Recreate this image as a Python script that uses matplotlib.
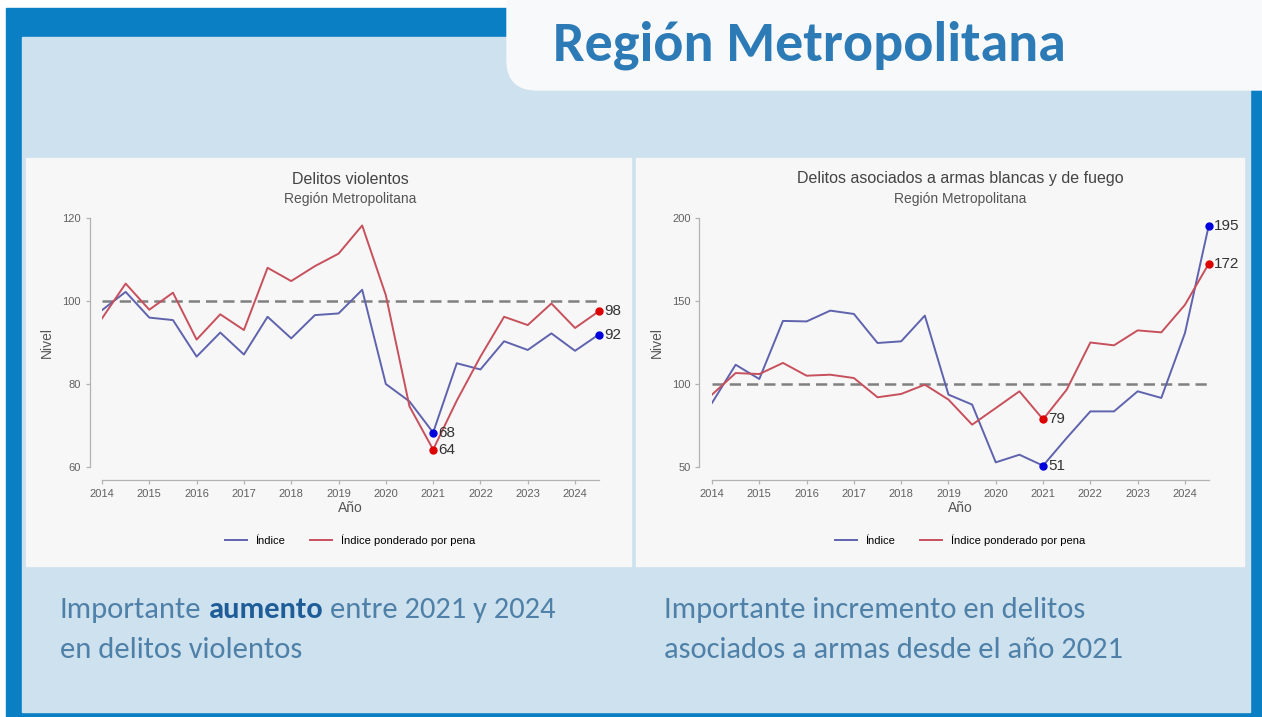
import matplotlib
matplotlib.use('Agg')
import matplotlib.pyplot as plt
from matplotlib.patches import Rectangle, FancyBboxPatch
from matplotlib import font_manager

# ------------------------------------------------------------
# Datos (semestrales 2014 - 2024)
# ------------------------------------------------------------
periodos = [2014.0, 2014.5, 2015.0, 2015.5, 2016.0, 2016.5, 2017.0, 2017.5,
            2018.0, 2018.5, 2019.0, 2019.5, 2020.0, 2020.5, 2021.0, 2021.5,
            2022.0, 2022.5, 2023.0, 2023.5, 2024.0, 2024.5]
anios = [2014, 2015, 2016, 2017, 2018, 2019, 2020, 2021, 2022, 2023, 2024]

violentos_indice = [97.8, 102.2, 96.0, 95.4, 86.6, 92.4, 87.1, 96.2, 91.0, 96.6, 97.0,
                    102.7, 80.0, 75.8, 68.3, 85.0, 83.5, 90.3, 88.2, 92.2, 88.0, 91.9]
violentos_pond = [95.8, 104.2, 97.9, 102.0, 90.7, 96.8, 93.0, 108.0, 104.8, 108.4, 111.4,
                  118.2, 101.4, 74.6, 64.2, 76.0, 86.6, 96.2, 94.2, 99.4, 93.5, 97.5]

armas_indice = [88.6, 111.6, 103.0, 138.0, 137.7, 144.2, 142.2, 124.7, 125.7, 141.2, 93.6,
                87.6, 52.8, 57.4, 50.8, 67.5, 83.5, 83.5, 95.6, 91.6, 130.7, 195.0]
armas_pond = [93.6, 106.6, 106.0, 112.7, 105.0, 105.6, 103.6, 92.0, 94.0, 99.6, 90.6,
              75.5, 85.5, 95.6, 78.7, 96.6, 125.0, 123.3, 132.3, 131.1, 147.7, 172.3]

# puntos marcados: 2021 y ultimo semestre
marcados = [2021.0, 2024.5]

W, H = 1262, 717
AZUL_LINEA = '#5f63ad'
ROJO_LINEA = '#c7505d'
GRIS_TXT = '#444444'

nombres = {f.name for f in font_manager.fontManager.ttflist}
fuente = next(n for n in ['Carlito', 'Lato', 'Open Sans', 'DejaVu Sans'] if n in nombres)
fuente_graf = next(n for n in ['Liberation Sans', 'Arimo', 'DejaVu Sans'] if n in nombres)

fig = plt.figure(figsize=(W / 100, H / 100), dpi=100)
fig.patch.set_facecolor('white')


def rect_px(x0, y0, x1, y1):
    return [x0 / W, 1 - y1 / H, (x1 - x0) / W, (y1 - y0) / H]


def texto(x, y, s, **kw):
    return fig.text(x / W, 1 - y / H, s, **kw)


# ------------------------------------------------------------
# Fondo de la diapositiva
# ------------------------------------------------------------
bg = fig.add_axes([0, 0, 1, 1])
bg.set_xlim(0, W)
bg.set_ylim(H, 0)
bg.axis('off')
bg.add_patch(Rectangle((6, 8), W - 6, H - 8, color='#0b7fc3', zorder=0))
bg.add_patch(Rectangle((22, 37), 1228, 675, color='#cde1ee', zorder=1))
bg.add_patch(FancyBboxPatch((507, -40), 820, 130, boxstyle='round,pad=0,rounding_size=30',
                            color='#f8f9fa', zorder=2))
bg.add_patch(Rectangle((26, 158), 605, 408, color='#f7f7f7', zorder=1))
bg.add_patch(Rectangle((636, 158), 608, 408, color='#f7f7f7', zorder=1))


def dibujar(rect, indice, pond, titulo, ylim, yticks, cx):
    ax = fig.add_axes(rect_px(*rect))
    ax.set_facecolor('none')
    ax.plot([periodos[0], periodos[-1]], [100, 100], color='#808080', lw=1.8,
            dashes=(4.5, 2.4), zorder=1)
    l1, = ax.plot(periodos, indice, color=AZUL_LINEA, lw=1.4, label='Índice', zorder=2)
    l2, = ax.plot(periodos, pond, color=ROJO_LINEA, lw=1.4, label='Índice ponderado por pena', zorder=2)
    for serie, col in [(indice, '#0000dd'), (pond, '#dd0000')]:
        for p in marcados:
            v = serie[periodos.index(p)]
            ax.plot(p, v, 'o', color=col, ms=5, clip_on=False, zorder=3)
            ax.annotate(f'{round(v)}', (p, v), xytext=(4, 0), textcoords='offset points',
                        va='center', ha='left', fontsize=11, color='#333333', family=fuente_graf)
    ax.set_xlim(2014, 2024.5)
    ax.set_ylim(*ylim)
    ax.set_xticks(anios)
    ax.set_yticks(yticks)
    for s in ['top', 'right']:
        ax.spines[s].set_visible(False)
    ax.spines['left'].set_position(('outward', 9))
    ax.spines['bottom'].set_position(('outward', 9))
    ax.spines['left'].set_bounds(*ylim)
    ax.spines['bottom'].set_bounds(2014, 2024.5)
    for s in ['left', 'bottom']:
        ax.spines[s].set_color('#b3b3b3')
        ax.spines[s].set_linewidth(0.9)
    ax.tick_params(colors='#b3b3b3', labelcolor='#606060', labelsize=8, length=3, width=0.9)
    for lab in ax.get_xticklabels() + ax.get_yticklabels():
        lab.set_family(fuente_graf)
    ax.set_xlabel('Año', fontsize=10, color='#555555', family=fuente_graf, labelpad=2)
    ax.set_ylabel('Nivel', fontsize=10, color='#555555', family=fuente_graf, labelpad=6)
    texto(cx, 179, titulo, fontsize=11.5, color=GRIS_TXT, ha='center', va='center', family=fuente_graf)
    texto(cx, 199, 'Región Metropolitana', fontsize=10, color='#555555', ha='center', va='center',
          family=fuente_graf)
    ax.legend(handles=[l1, l2], loc='center', bbox_to_anchor=(cx / W, 1 - 540 / H),
              bbox_transform=fig.transFigure, ncol=2, frameon=False,
              handlelength=2.0, columnspacing=2.2, prop={'family': fuente_graf, 'size': 8})
    return ax


dibujar((102, 218, 598.7, 467), violentos_indice, violentos_pond, 'Delitos violentos',
        (60, 120), [60, 80, 100, 120], 350)
dibujar((712, 218, 1208.6, 467), armas_indice, armas_pond,
        'Delitos asociados a armas blancas y de fuego', (50, 200), [50, 100, 150, 200], 960)

# ------------------------------------------------------------
# Textos de la diapositiva
# ------------------------------------------------------------
r = fig.canvas.get_renderer()


def ajustar(t, ancho):
    w = t.get_window_extent(r).width
    t.set_fontsize(t.get_fontsize() * ancho / w)
    return t


tit = texto(553, 61, 'Región Metropolitana', fontsize=38, fontweight='bold', color='#2c7ab6',
            family=fuente, ha='left', va='baseline')
ajustar(tit, 513)

COLOR_TXT = '#4f80a8'
TAM = 22
x = 60
medida_a = texto(0, 0, 'a a', fontsize=TAM, family=fuente)
medida_b = texto(0, 0, 'aa', fontsize=TAM, family=fuente)
espacio = medida_a.get_window_extent(r).width - medida_b.get_window_extent(r).width
medida_a.remove()
medida_b.remove()
for s, peso, col in [('Importante', 'normal', COLOR_TXT), ('aumento', 'bold', '#1f5d98'),
                     ('entre 2021 y 2024', 'normal', COLOR_TXT)]:
    t = texto(x, 618, s, fontsize=TAM, fontweight=peso, color=col, family=fuente, va='baseline')
    x += t.get_window_extent(r).width + espacio
texto(60, 658, 'en delitos violentos', fontsize=TAM, color=COLOR_TXT, family=fuente, va='baseline')
texto(664, 618, 'Importante incremento en delitos', fontsize=TAM, color=COLOR_TXT, family=fuente,
      va='baseline')
texto(664, 658, 'asociados a armas desde el año 2021', fontsize=TAM, color=COLOR_TXT, family=fuente,
      va='baseline')

fig.savefig('out.png', dpi=100, facecolor=fig.get_facecolor())
